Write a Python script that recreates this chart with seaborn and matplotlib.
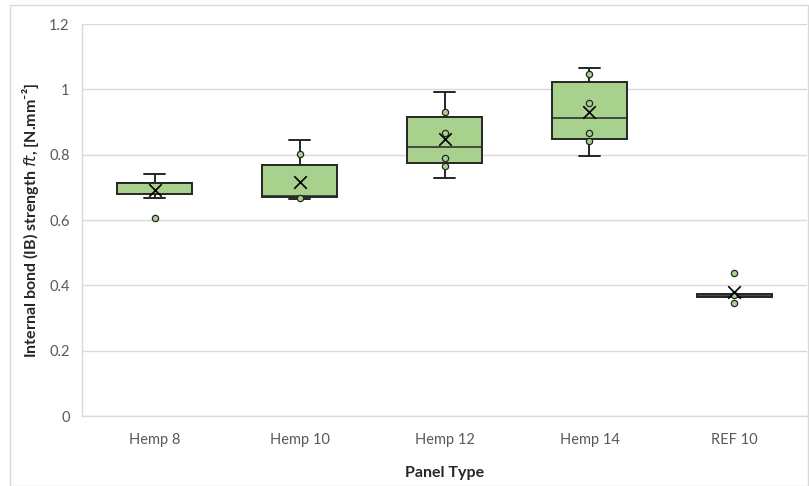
import pandas as pd
import matplotlib.pyplot as plt
import seaborn as sns
from matplotlib.patches import Rectangle

# Box statistics
panels = ['Hemp 8', 'Hemp 10', 'Hemp 12', 'Hemp 14', 'REF 10']
whis_lo = [0.667, 0.663, 0.729, 0.796, 0.364]
q1 = [0.680, 0.670, 0.773, 0.847, 0.364]
median = [0.712, 0.674, 0.824, 0.911, 0.368]
q3 = [0.714, 0.768, 0.916, 1.023, 0.372]
whis_hi = [0.741, 0.845, 0.991, 1.064, 0.372]
means = [0.692, 0.715, 0.847, 0.931, 0.379]

# Individual points shown (inner points and outliers)
point_panel = ['Hemp 8', 'Hemp 10', 'Hemp 10',
               'Hemp 12', 'Hemp 12', 'Hemp 12', 'Hemp 12',
               'Hemp 14', 'Hemp 14', 'Hemp 14', 'Hemp 14',
               'REF 10', 'REF 10', 'REF 10']
point_value = [0.605, 0.802, 0.666,
               0.931, 0.865, 0.791, 0.766,
               1.047, 0.957, 0.865, 0.842,
               0.437, 0.371, 0.345]

# five-number rows -> with whis=(0, 100) seaborn reproduces the boxes exactly
rows = []
for i, p in enumerate(panels):
    for v in (whis_lo[i], q1[i], median[i], q3[i], whis_hi[i]):
        rows.append({'panel': p, 'value': v})
df_box = pd.DataFrame(rows)
df_pts = pd.DataFrame({'panel': point_panel, 'value': point_value})
df_mean = pd.DataFrame({'panel': panels, 'value': means})

sns.set_style('white')
plt.rcParams['font.family'] = ['Lato', 'DejaVu Sans']

fig = plt.figure(figsize=(8.09, 4.86), dpi=100)
ax = fig.add_axes([0.1014, 0.144, 0.8961, 0.8066])

green = '#A9D18E'
dark = '#262626'

sns.boxplot(data=df_box, x='panel', y='value', order=panels, whis=(0, 100),
            showfliers=False, width=0.52, color=green, linecolor=dark,
            linewidth=1.4, saturation=1, ax=ax,
            medianprops=dict(color=dark, linewidth=1.1),
            capwidths=0.15)

sns.stripplot(data=df_pts, x='panel', y='value', order=panels, jitter=False,
              color=green, edgecolor=dark, linewidth=0.9, size=4.5,
              ax=ax, zorder=5)

sns.stripplot(data=df_mean, x='panel', y='value', order=panels, jitter=False,
              marker='x', color='black', linewidth=1.2, size=9, ax=ax, zorder=6)

ax.set_ylim(0, 1.2)
ax.set_xlim(-0.5, 4.5)
ax.set_yticks([0, 0.2, 0.4, 0.6, 0.8, 1.0, 1.2])
ax.set_yticklabels(['0', '0.2', '0.4', '0.6', '0.8', '1', '1.2'])
ax.yaxis.grid(True, color='#D9D9D9', linewidth=1)
ax.set_axisbelow(True)
ax.tick_params(axis='both', length=0, labelsize=10.5, labelcolor='#595959')
ax.tick_params(axis='x', pad=12)
ax.tick_params(axis='y', pad=9)
for side in ['top', 'right']:
    ax.spines[side].set_visible(False)
for side in ['left', 'bottom']:
    ax.spines[side].set_color('#D9D9D9')
    ax.spines[side].set_linewidth(1)

ax.set_xlabel('Panel Type', fontsize=11.5, fontweight='bold', color='#262626', labelpad=14)
ax.set_ylabel('Internal bond (IB) strength $\\mathit{ft}$, [N.mm\u207b\u00b2]',
              fontsize=11.5, fontweight='bold', color='#262626', labelpad=6)

# chart-area border
fig.patches.append(Rectangle((0.0124, 0.0), 0.9864, 0.9897, transform=fig.transFigure,
                             fill=False, edgecolor='#D9D9D9', linewidth=1))

fig.savefig('out.png', dpi=100)
plt.close(fig)
